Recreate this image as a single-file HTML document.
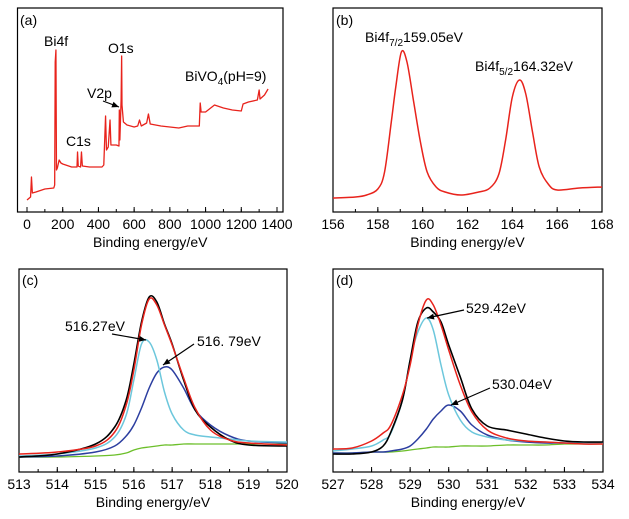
<!DOCTYPE html>
<html><head><meta charset="utf-8"><style>
html,body{margin:0;padding:0;background:#fff;}
svg{display:block;font-family:"Liberation Sans",Arial,sans-serif;}
</style></head><body>
<svg id="fig" width="629" height="519" viewBox="0 0 629 519" xmlns="http://www.w3.org/2000/svg"></svg>
<script>
// ---- Panel (a) survey spectrum: energies and intensities (a.u.)
const aEnergy = [0,20,25,30,50,100,150,155,158,162,165,170,180,190,200,250,280,283,287,300,305,310,350,400,420,430,440,445,455,465,470,500,515,517,520,527,530,532,540,560,600,620,630,640,670,680,690,750,800,850,900,950,965,970,975,1000,1050,1100,1150,1200,1210,1240,1290,1300,1305,1330,1350];
const aInt    = [12,15,35,19,20,23,24,27,150,162,42,44,52,49,48,45,45,60,46,45,60,46,45,45,45,47,96,62,65,92,67,67,66,102,72,112,156,107,90,87,85,86,92,86,89,98,88,86,85,84,86,86,86,109,100,100,107,104,102,101,108,110,112,122,113,117,123];
const aTicks = [0,200,400,600,800,1000,1200,1400];
// ---- Panel (b) Bi 4f
const bEnergy = [156,157,157.5,158,158.3,158.6,158.8,159.05,159.3,159.6,159.9,160.2,160.6,161,161.7,162.5,163,163.4,163.7,164,164.32,164.6,164.9,165.2,165.6,166,167,168];
const bInt    = [14,15,17,23,40,90,125,160,150,110,70,40,25,20,17,20,24,38,72,115,132,118,80,45,28,22,24,25];
const bTicks = [156,158,160,162,164,166,168];
// ---- Panel (c) V 2p
const cEnergy = [513,514,515,515.5,515.8,516,516.2,516.4,516.6,516.8,517,517.3,517.6,518,518.5,519,520];
const cRaw    = [15,18,28,45,72,108,150,175,170,148,128,92,62,45,32,27,26];
const cFit    = [18,20,26,40,67,102,147,173,167,147,127,94,64,42,32,29,27];
const cPeak1  = [16,18,24,35,57,92,128,130,112,80,58,42,37,35,33,31,30];
const cPeak2  = [15,16,20,26,36,47,64,84,99,105,102,84,62,47,36,31,29];
const cBg     = [15,15,16,17,19,22,24,25,26,27,27,28,28,28,28,28,28];
const cTicks = [513,514,515,516,517,518,519,520];
// ---- Panel (d) O 1s
const dEnergy = [527,527.5,528,528.3,528.5,528.8,529,529.2,529.42,529.6,529.8,530,530.3,530.6,531,531.5,532,532.5,533,533.5,534];
const dRaw    = [18,18,20,26,40,72,112,150,164,160,150,127,95,63,46,42,38,34,31,30,30];
const dFit    = [23,24,31,39,47,77,107,147,172,167,147,122,87,60,42,34,31,30,29,28,28];
const dPeak1  = [21,23,26,32,39,72,112,140,154,142,107,77,52,40,35,32,31,30,29,29,29];
const dPeak2  = [19,19,20,20,21,23,26,33,43,53,61,67,61,47,37,32,30,29,29,29,29];
const dBg     = [19,19,20,20,20,21,22,23,24,25,25,25,26,26,26,27,27,27,28,28,28];
const dTicks = [527,528,529,530,531,532,533,534];

const NS="http://www.w3.org/2000/svg";
const svg=document.getElementById('fig');
function mk(tag,attrs,parent){const e=document.createElementNS(NS,tag);for(const k in attrs)e.setAttribute(k,attrs[k]);(parent||svg).appendChild(e);return e;}
function scale(d0,d1,r0,r1){return v=>r0+(v-d0)/(d1-d0)*(r1-r0);}
function smoothPath(pts){
  let d=`M${pts[0][0]},${pts[0][1]}`;
  for(let i=0;i<pts.length-1;i++){
    const p0=pts[Math.max(0,i-1)],p1=pts[i],p2=pts[i+1],p3=pts[Math.min(pts.length-1,i+2)];
    const c1x=p1[0]+(p2[0]-p0[0])/6,c1y=p1[1]+(p2[1]-p0[1])/6,c2x=p2[0]-(p3[0]-p1[0])/6,c2y=p2[1]-(p3[1]-p1[1])/6;
    d+=` C${c1x},${c1y} ${c2x},${c2y} ${p2[0]},${p2[1]}`;
  }
  return d;
}
function panel(id,box,ticks,minorStep,xr){
  const g=mk('g',{});
  
  
  const r=xr||[box.l,box.r];
  const x=scale(ticks[0],ticks[ticks.length-1],r[0],r[1]);
  const y=scale(0,box.b-box.t,box.b,box.t);
  const frame=mk('rect',{x:box.l,y:box.t,width:box.r-box.l,height:box.b-box.t,fill:'none',stroke:'#000','stroke-width':1.2},g);
  
  
  const t0=ticks[0],t1=ticks[ticks.length-1];
  for(let v=t0;v<=t1+1e-9;v+=minorStep){
    const X=x(v);
    mk('line',{x1:X,x2:X,y1:box.b,y2:box.b-3,stroke:'#000','stroke-width':1},g);
  }
  ticks.forEach(v=>{
    const X=x(v);
    mk('line',{x1:X,x2:X,y1:box.b,y2:box.b-5,stroke:'#000','stroke-width':1},g);
    const t=mk('text',{x:X,y:box.b+17,'font-size':14,'text-anchor':'middle',fill:'#000'},g);
    t.textContent=v;
    
    
  });
  const tt=mk('text',{x:(box.l+box.r)/2,y:box.b+35,'font-size':14,'text-anchor':'middle',fill:'#000'},g);
  tt.textContent='Binding energy/eV';
  
  
  return {g,x,y};
}
function series(p,xs,ys,color,name,smooth,w){
  const pts=xs.map((v,i)=>[p.x(v),p.y(ys[i])]);
  const d=smooth?smoothPath(pts):'M'+pts.map(q=>q.join(',')).join(' L');
  const e=mk('path',{d:d,fill:'none',stroke:color,'stroke-width':w||1.4,'stroke-linejoin':'round'},p.g);
  
  
}
function label(p,x,y,txt,name,size){
  const t=mk('text',{x:x,y:y,'font-size':size||14,fill:'#000'},p.g);
  t.innerHTML=txt;
  
  
  return t;
}
function arrow(p,x1,y1,x2,y2,name){
  const g=mk('g',{},p.g);
  
  
  mk('line',{x1:x1,y1:y1,x2:x2,y2:y2,stroke:'#000','stroke-width':1.2},g);
  const a=Math.atan2(y2-y1,x2-x1),L=7,W=3;
  const bx=x2-L*Math.cos(a),by=y2-L*Math.sin(a);
  mk('polygon',{points:`${x2},${y2} ${bx+W*Math.sin(a)},${by-W*Math.cos(a)} ${bx-W*Math.sin(a)},${by+W*Math.cos(a)}`,fill:'#000'},g);
}

// (a)
const pa=panel('a',{l:17.5,r:283,t:8,b:212},aTicks,100,[27,277]);
series(pa,aEnergy,aInt,'#e8231c','survey-spectrum',false,1.3);
label(pa,20,25,'(a)','panel-label-a');
label(pa,44,46,'Bi4f','peak-label-bi4f');
label(pa,108,53,'O1s','peak-label-o1s');
label(pa,87,98,'V2p','peak-label-v2p');
arrow(pa,103,101,119,107,'arrow-v2p');
label(pa,66,146,'C1s','peak-label-c1s');
label(pa,185,81,'BiVO<tspan font-size="10" dy="4">4</tspan><tspan dy="-4">(pH=9)</tspan>','sample-label');

// (b)
const pb=panel('b',{l:333,r:602,t:8,b:212},bTicks,1);
series(pb,bEnergy,bInt,'#e8231c','bi4f-spectrum',true,1.5);
label(pb,336,25,'(b)','panel-label-b');
label(pb,365,42,'Bi4f<tspan font-size="10" dy="4">7/2</tspan><tspan dy="-4">159.05eV</tspan>','peak-label-bi4f72');
label(pb,475,71,'Bi4f<tspan font-size="10" dy="4">5/2</tspan><tspan dy="-4">164.32eV</tspan>','peak-label-bi4f52');

// (c)
const pc=panel('c',{l:19,r:287,t:269,b:472},cTicks,0.5);
series(pc,cEnergy,cBg,'#6cbf2a','background-c',true,1.3);
series(pc,cEnergy,cPeak2,'#2c3ea0','fit-peak-51679',true,1.5);
series(pc,cEnergy,cPeak1,'#6cc7dc','fit-peak-51627',true,1.5);
series(pc,cEnergy,cRaw,'#000','raw-data-c',true,1.6);
series(pc,cEnergy,cFit,'#e8231c','fit-envelope-c',true,1.5);
label(pc,22,285,'(c)','panel-label-c');
label(pc,65,331,'516.27eV','peak-label-51627');
arrow(pc,112,334,146,340,'arrow-51627');
label(pc,197,346,'516. 79eV','peak-label-51679');
arrow(pc,194,344,163,365,'arrow-51679');

// (d)
const pd=panel('d',{l:333,r:603,t:269,b:472},dTicks,0.5);
series(pd,dEnergy,dBg,'#6cbf2a','background-d',true,1.3);
series(pd,dEnergy,dPeak2,'#2c3ea0','fit-peak-53004',true,1.5);
series(pd,dEnergy,dPeak1,'#6cc7dc','fit-peak-52942',true,1.5);
series(pd,dEnergy,dRaw,'#000','raw-data-d',true,1.6);
series(pd,dEnergy,dFit,'#e8231c','fit-envelope-d',true,1.5);
label(pd,336,285,'(d)','panel-label-d');
label(pd,466,313,'529.42eV','peak-label-52942');
arrow(pd,464,310,427,318,'arrow-52942');
label(pd,492,389,'530.04eV','peak-label-53004');
arrow(pd,490,388,451,405,'arrow-53004');
</script>
</body></html>
